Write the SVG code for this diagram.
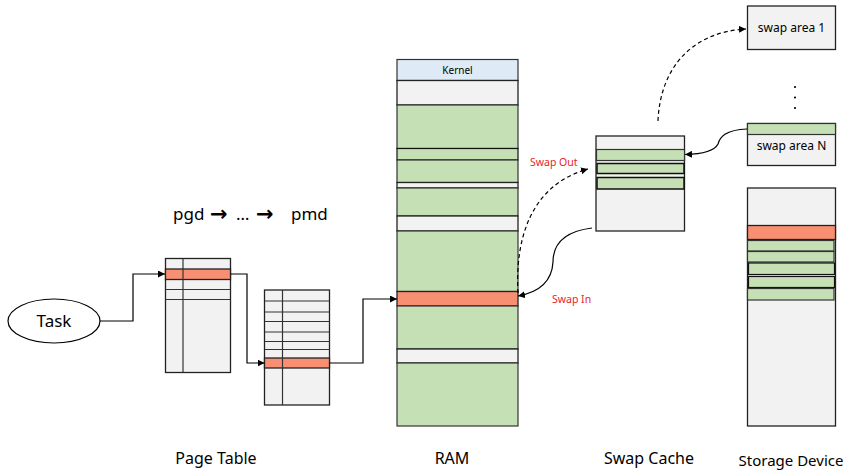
<svg xmlns="http://www.w3.org/2000/svg" width="852" height="475" viewBox="0 0 852 475">
<defs>
<marker id="ah" viewBox="0 0 10 10" refX="10" refY="5" markerWidth="7" markerHeight="7" markerUnits="userSpaceOnUse" orient="auto"><path d="M0,0 L10,5 L0,10 z" fill="#000"/></marker>
<style>
.g{fill:#F2F2F2;stroke:#222;stroke-width:1.3}
.gr{fill:#C5E0B4;stroke:#333;stroke-width:1.2}
.rd{fill:#F88F72;stroke:#222;stroke-width:1.3}
.ln{stroke:#333;stroke-width:1.2;fill:none}
.c{fill:none;stroke:#000;stroke-width:1.2}
.d{fill:none;stroke:#000;stroke-width:1.2;stroke-dasharray:4 3}
text{font-family:"Noto Sans","Open Sans",sans-serif;fill:#000}
.lab{font-size:16px}
.red{fill:#E8252A;font-size:10.5px}
.arr{font-family:"DejaVu Sans",sans-serif;font-size:21px;font-weight:bold}
</style>
</defs>

<g id="task">
<ellipse cx="54" cy="321" rx="46" ry="22" fill="#fff" stroke="#000" stroke-width="1.2"/>
<text x="54" y="327" font-size="17" text-anchor="middle">Task</text>
</g>

<g id="pgd-label"><text y="220" font-size="17"><tspan x="173">pgd</tspan><tspan class="arr" x="210" dy="1">→</tspan><tspan x="236" dy="-1">…</tspan><tspan class="arr" x="256" dy="1">→</tspan><tspan x="291" dy="-1">pmd</tspan></text></g>

<g id="pagetable1">
<rect class="g" x="165.5" y="258.5" width="65" height="114"/>
<rect class="rd" x="165.5" y="269" width="65" height="10.5"/>
<line class="ln" x1="165.5" y1="289.5" x2="230.5" y2="289.5"/>
<line class="ln" x1="165.5" y1="299.5" x2="230.5" y2="299.5"/>
<line class="ln" x1="183" y1="258.5" x2="183" y2="372.5"/>
</g>

<g id="pagetable2">
<rect class="g" x="264.5" y="290" width="65" height="115"/>
<line class="ln" x1="264.5" y1="301" x2="329.5" y2="301"/>
<line class="ln" x1="264.5" y1="312" x2="329.5" y2="312"/>
<line class="ln" x1="264.5" y1="321.5" x2="329.5" y2="321.5"/>
<line class="ln" x1="264.5" y1="332" x2="329.5" y2="332"/>
<line class="ln" x1="264.5" y1="341.5" x2="329.5" y2="341.5"/>
<line class="ln" x1="264.5" y1="349.5" x2="329.5" y2="349.5"/>
<rect class="rd" x="264.5" y="358" width="65" height="10"/>
<line class="ln" x1="282.5" y1="290" x2="282.5" y2="405"/>
</g>

<g id="ram">
<rect x="397" y="59.5" width="121" height="21" fill="#DEEBF7" stroke="#333" stroke-width="1.2"/>
<text x="457.5" y="74" font-size="10" text-anchor="middle">Kernel</text>
<rect class="g" x="397" y="80.5" width="121" height="24.5"/>
<rect class="gr" x="397" y="105" width="121" height="43.5"/>
<rect class="gr" x="397" y="148.5" width="121" height="11.5" style="stroke:#111"/>
<rect class="gr" x="397" y="160" width="121" height="22.5"/>
<rect class="g" x="397" y="182.5" width="121" height="5.5"/>
<rect class="gr" x="397" y="188" width="121" height="28"/>
<rect class="g" x="397" y="216" width="121" height="15"/>
<rect class="gr" x="397" y="231" width="121" height="60.5"/>
<rect class="rd" x="397" y="291.5" width="121" height="14.5"/>
<rect class="gr" x="397" y="306" width="121" height="43"/>
<rect class="g" x="397" y="349" width="121" height="14"/>
<rect class="gr" x="397" y="363" width="121" height="63"/>
</g>

<g id="swapcache">
<rect class="g" x="596" y="136" width="88.5" height="95"/>
<rect class="gr" x="596.5" y="149.5" width="88" height="11"/>
<rect class="gr" x="597" y="163.5" width="87" height="10" style="stroke:#111;stroke-width:1.5"/>
<rect class="gr" x="597" y="177.5" width="87" height="11.5" style="stroke:#111;stroke-width:1.5"/>
</g>

<g id="swaparea1">
<rect class="g" x="747.5" y="6" width="88" height="43.5"/>
<text x="791.5" y="32" font-size="12" text-anchor="middle">swap area 1</text>
</g>

<g id="dots">
<circle cx="795" cy="87" r="1.1" fill="#000"/>
<circle cx="795" cy="97.5" r="1.1" fill="#000"/>
<circle cx="795" cy="108" r="1.1" fill="#000"/>
</g>

<g id="swapareaN">
<rect class="g" x="747.5" y="123.5" width="88" height="42"/>
<rect class="gr" x="747.5" y="123.5" width="88" height="11"/>
<text x="791.5" y="150" font-size="12" text-anchor="middle">swap area N</text>
</g>

<g id="storage">
<rect class="g" x="747.5" y="188" width="88" height="238"/>
<rect class="rd" x="747.5" y="225.5" width="88" height="14"/>
<rect class="gr" x="747.5" y="240.5" width="86.5" height="10.5"/>
<rect class="gr" x="747.5" y="251.5" width="86.5" height="10.5"/>
<rect class="gr" x="748.5" y="263" width="86" height="11.5" style="stroke:#111"/>
<rect class="gr" x="748.5" y="276.5" width="86" height="11" style="stroke:#111"/>
<rect class="gr" x="747.5" y="288.5" width="86.5" height="11.5"/>
</g>

<g id="connectors">
<path class="c" d="M100,321 H133 V274 H165" marker-end="url(#ah)"/>
<path class="c" d="M230.5,274 H247 V363 H264.5" marker-end="url(#ah)"/>
<path class="c" d="M329.5,363 H363 V299 H397" marker-end="url(#ah)"/>
<path class="d" d="M518,293 C515,240 530,185 588,169" marker-end="url(#ah)"/>
<path class="c" d="M592,228 C560,232 553,248 553,262 C552,280 540,292 518,296" marker-end="url(#ah)"/>
<path class="d" d="M658,121 C660,70 690,32 746,29" marker-end="url(#ah)"/>
<path class="c" d="M747,129 C725,130 720,137 718,144 C715,150 705,154 685,154.5" marker-end="url(#ah)"/>
</g>

<g id="labels">
<text class="red" x="530" y="166">Swap Out</text>
<text class="red" x="552" y="303">Swap In</text>
<text class="lab" x="216" y="464" text-anchor="middle">Page Table</text>
<text class="lab" x="452" y="464" text-anchor="middle">RAM</text>
<text class="lab" x="649" y="464" text-anchor="middle">Swap Cache</text>
<text x="791" y="466" font-size="15" text-anchor="middle">Storage Device</text>
</g>
</svg>
